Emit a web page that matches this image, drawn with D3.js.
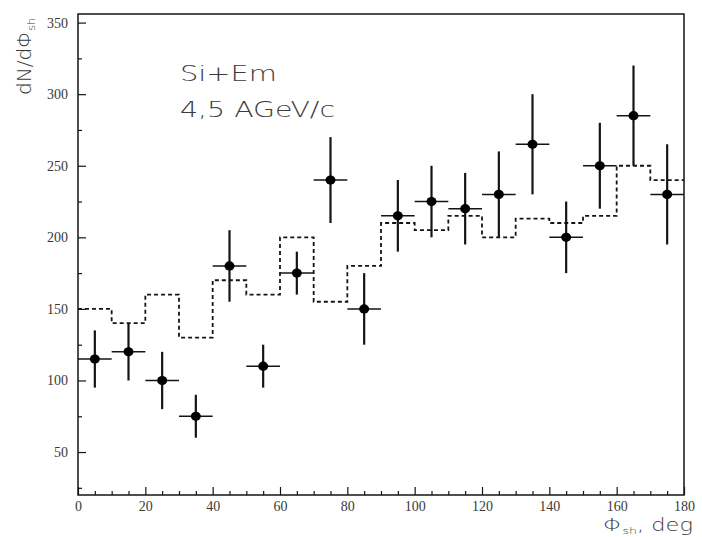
<!DOCTYPE html>
<html>
<head>
<meta charset="utf-8">
<script src="https://cdn.jsdelivr.net/npm/d3@7"></script>
<style>
  html, body { margin: 0; padding: 0; background: #fff; }
  svg { display: block; }
</style>
</head>
<body>
<svg id="chart" width="702" height="537"></svg>
<script>
// Azimuthal distribution of shower particles, Si+Em at 4.5 AGeV/c
const binCenters = [5, 15, 25, 35, 45, 55, 65, 75, 85, 95, 105, 115, 125, 135, 145, 155, 165, 175];
const measured   = [115, 120, 100, 75, 180, 110, 175, 240, 150, 215, 225, 220, 230, 265, 200, 250, 285, 230];
const errors     = [20, 20, 20, 15, 25, 15, 15, 30, 25, 25, 25, 25, 30, 35, 25, 30, 35, 35];
const binEdges   = [0, 10, 20, 30, 40, 50, 60, 70, 80, 90, 100, 110, 120, 130, 140, 150, 160, 170, 180];
const modelHist  = [150, 140, 160, 130, 170, 160, 200, 155, 180, 210, 205, 215, 200, 213, 210, 215, 250, 240];
const xMajorTicks = [0, 20, 40, 60, 80, 100, 120, 140, 160, 180];
const yMajorTicks = [50, 100, 150, 200, 250, 300, 350];
const halfBin = 5;

const svg = d3.select("#chart");
const plotL = 78, plotR = 684, plotT = 14, plotB = 495;

const x = d3.scaleLinear().domain([0, 180]).range([plotL, plotR]);
const y = d3.scaleLinear().domain([20, 356]).range([plotB, plotT]);

const ink = "#141414";
const textInk = "#3a3a3a";

// ---- axes (ticks pointing into the frame) ----
const xMinor = d3.range(5, 180, 5).filter(v => v % 20 !== 0);
const yMinor = d3.range(25, 350, 50);

const gx = svg.append("g").attr("transform", `translate(0,${plotB})`);
gx.call(d3.axisBottom(x).tickValues(xMajorTicks).tickSize(-8).tickPadding(6).tickFormat(d3.format("d")));
const gxm = svg.append("g").attr("transform", `translate(0,${plotB})`);
gxm.call(d3.axisBottom(x).tickValues(xMinor).tickSize(-4).tickFormat(""));

const gy = svg.append("g").attr("transform", `translate(${plotL},0)`);
gy.call(d3.axisLeft(y).tickValues(yMajorTicks).tickSize(-8).tickPadding(10).tickFormat(d3.format("d")));
const gym = svg.append("g").attr("transform", `translate(${plotL},0)`);
gym.call(d3.axisLeft(y).tickValues(yMinor).tickSize(-4).tickFormat(""));

svg.selectAll(".domain").remove();
svg.selectAll("g").attr("font-family", null);
svg.selectAll(".tick line").attr("stroke", ink).attr("stroke-width", 1.2);
svg.selectAll(".tick text")
  .attr("fill", textInk)
  .style("font-family", "'Liberation Serif', 'DejaVu Serif', serif")
  .attr("font-size", 14);

// ---- frame ----
svg.append("rect")
  .attr("x", plotL).attr("y", plotT)
  .attr("width", plotR - plotL).attr("height", plotB - plotT)
  .attr("fill", "none").attr("stroke", ink).attr("stroke-width", 1.5);

// ---- dashed model histogram ----
const stepData = modelHist.map((v, i) => ({ x0: binEdges[i], x1: binEdges[i + 1], v }));
const pts = [];
stepData.forEach(d => { pts.push([x(d.x0), y(d.v)]); pts.push([x(d.x1), y(d.v)]); });
svg.append("path")
  .attr("d", d3.line()(pts))
  .attr("fill", "none")
  .attr("stroke", ink)
  .attr("stroke-width", 1.8)
  .attr("stroke-dasharray", "4,3");

// ---- data points with error bars ----
const data = binCenters.map((c, i) => ({ c, v: measured[i], e: errors[i] }));
const g = svg.append("g");
g.selectAll("line.xerr").data(data).join("line")
  .attr("class", "xerr")
  .attr("x1", d => x(d.c - halfBin)).attr("x2", d => x(d.c + halfBin))
  .attr("y1", d => y(d.v)).attr("y2", d => y(d.v))
  .attr("stroke", ink).attr("stroke-width", 1.5);
g.selectAll("line.yerr").data(data).join("line")
  .attr("class", "yerr")
  .attr("x1", d => x(d.c)).attr("x2", d => x(d.c))
  .attr("y1", d => y(d.v - d.e)).attr("y2", d => y(d.v + d.e))
  .attr("stroke", ink).attr("stroke-width", 2.2);
g.selectAll("ellipse").data(data).join("ellipse")
  .attr("cx", d => x(d.c)).attr("cy", d => y(d.v))
  .attr("rx", 5).attr("ry", 4.6)
  .attr("fill", "#000");

// ---- annotation ----
const note = svg.append("g")
  .style("font-family", "'DejaVu Sans', sans-serif")
  .style("font-weight", 200)
  .attr("fill", "#3c3c3c")
  .attr("font-size", 21);
note.append("text").attr("x", 180).attr("y", 81)
  .attr("textLength", 97).attr("lengthAdjust", "spacingAndGlyphs").text("Si+Em");
note.append("text").attr("x", 180).attr("y", 117)
  .attr("textLength", 155).attr("lengthAdjust", "spacingAndGlyphs").text("4,5 AGeV/c");

// ---- axis titles ----
const yTitle = svg.append("text")
  .attr("transform", "translate(31,95) rotate(-90)")
  .style("font-family", "'DejaVu Sans', sans-serif")
  .style("font-weight", 200)
  .attr("font-size", 20)
  .attr("fill", textInk);
yTitle.append("tspan").text("dN/dΦ");
yTitle.append("tspan").attr("font-size", 11).attr("dy", 4).text("sh");

const xTitle = svg.append("text")
  .attr("x", 603).attr("y", 531)
  .attr("textLength", 90).attr("lengthAdjust", "spacingAndGlyphs")
  .style("font-family", "'DejaVu Sans', sans-serif")
  .style("font-weight", 200)
  .attr("font-size", 17)
  .attr("fill", textInk);
xTitle.append("tspan").text("Φ");
xTitle.append("tspan").attr("font-size", 9.5).attr("dy", 2.5).text("sh");
xTitle.append("tspan").attr("dy", -2.5).text(", deg");
</script>
</body>
</html>
